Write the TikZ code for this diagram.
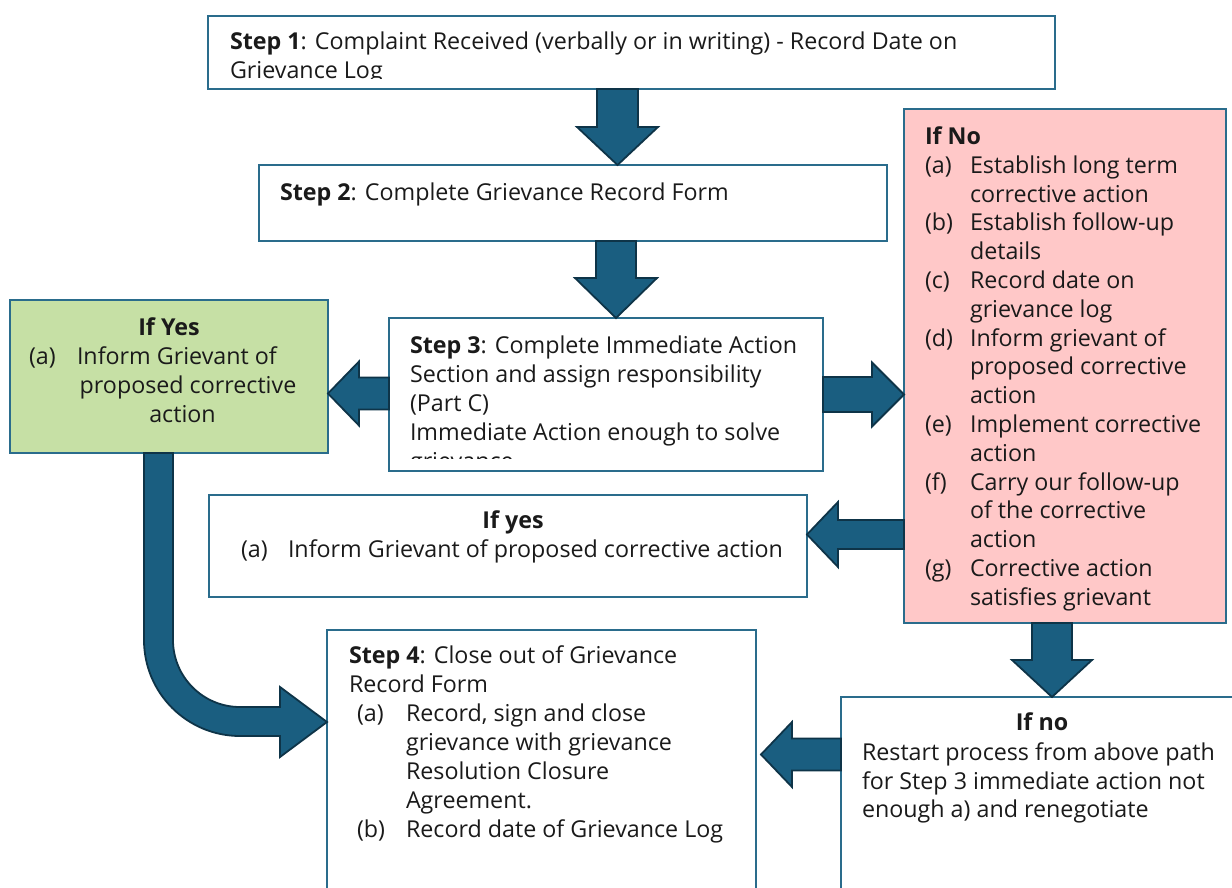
\documentclass[tikz,border=0pt]{standalone}
\usepackage{fontspec}
\setmainfont{Open Sans}
\usetikzlibrary{calc}
\definecolor{arrowfill}{HTML}{1A5E80}
\definecolor{arrowline}{HTML}{0E3448}
\definecolor{boxline}{HTML}{2A6C8C}
\definecolor{yesfill}{HTML}{C6E0A5}
\definecolor{nofill}{HTML}{FFC8C8}
\definecolor{textc}{HTML}{1A1A1A}
\newlength\calw
\AtBeginDocument{%
  \settowidth{\calw}{\fontsize{20pt}{24pt}\selectfont Inform Grievant of proposed corrective action}%
  \pgfmathsetmacro\fsz{20*495/\calw}%
  \xdef\fsz{\fsz}}
\newcommand\tf{\fontsize{\fsz pt}{\fsz pt}\selectfont}
\newcommand\arrowdown[5]{\draw[blockarrow] let \p1=#1, \p2=#2 in
  (\x2-#3,\y1) -- (\x2+#3,\y1) -- (\x2+#3,\y2+#5) -- (\x2+#4,\y2+#5) -- (\x2,\y2)
  -- (\x2-#4,\y2+#5) -- (\x2-#3,\y2+#5) -- cycle;}
\newcommand\arrowleft[5]{\draw[blockarrow] let \p1=#1, \p2=#2 in
  (\x1,\y2+#3) -- (\x2+#5,\y2+#3) -- (\x2+#5,\y2+#4) -- (\x2,\y2)
  -- (\x2+#5,\y2-#4) -- (\x2+#5,\y2-#3) -- (\x1,\y2-#3) -- cycle;}
\newcommand\arrowright[5]{\draw[blockarrow] let \p1=#1, \p2=#2 in
  (\x1,\y2+#3) -- (\x2-#5,\y2+#3) -- (\x2-#5,\y2+#4) -- (\x2,\y2)
  -- (\x2-#5,\y2-#4) -- (\x2-#5,\y2-#3) -- (\x1,\y2-#3) -- cycle;}
\begin{document}
\begin{tikzpicture}[x=1pt,y=-1pt,
  box/.style={draw=boxline, line width=1.6pt, rectangle, inner sep=0pt, outer sep=0pt, anchor=north west},
  blockarrow/.style={fill=arrowfill, draw=arrowline, line width=1.8pt, line join=miter},
  tx/.style={anchor=base west, inner sep=0pt, outer sep=0pt, font=\tf, text=textc, yshift=-1.5pt},
  txc/.style={anchor=base, inner sep=0pt, outer sep=0pt, font=\tf, text=textc, yshift=-1.5pt}]
\clip (0,0) rectangle (1232,888);
\fill[white] (0,0) rectangle (1232,888);
% boxes
\node[box, minimum width=847pt, minimum height=73pt] (s1) at (208,16) {};
\node[box, minimum width=628pt, minimum height=76pt] (s2) at (259,165) {};
\node[box, minimum width=434pt, minimum height=153pt] (s3) at (389,318) {};
\node[box, fill=yesfill, minimum width=318pt, minimum height=153pt] (ifyes) at (10,300) {};
\node[box, fill=nofill, minimum width=322pt, minimum height=514pt] (ifno) at (904,109) {};
\node[box, minimum width=598pt, minimum height=102pt] (ifyesb) at (209,495) {};
\node[box, minimum width=429pt, minimum height=290pt] (step4) at (327,630) {};
\node[box, minimum width=420pt, minimum height=220pt] (ifnob) at (841,697) {};
% block arrows
\arrowdown{(s1.south)}{(617.5,0 |- s2.north)}{20.5pt}{40.5pt}{38pt}
\arrowdown{(s2.south)}{(616,0 |- s3.north)}{20pt}{41pt}{40pt}
\arrowleft{(s3.west)}{(ifyes.east |- 0,393.5)}{16pt}{32pt}{31pt}
\arrowright{(s3.east)}{(ifno.west |- 0,394.5)}{17.5pt}{32pt}{32pt}
\arrowleft{(ifno.west)}{(ifyesb.east |- 0,534.5)}{14.5pt}{32.5pt}{31pt}
\arrowdown{(ifno.south)}{(1052,0 |- ifnob.north)}{20pt}{40pt}{37pt}
\coordinate (a7tip) at ($(step4.east |- 0,754.5)+(5,0)$);
\arrowleft{(ifnob.west)}{(a7tip)}{16pt}{32.5pt}{31pt}
% bent arrow from If Yes to Step 4
\coordinate (bstart) at (144,0 |- ifyes.south);
\coordinate (btip) at (step4.west |- 0,722);
\draw[blockarrow] (bstart) -- (144,640) .. controls (144,693) and (187,736) .. (240,736)
  -- (280,736) -- (280,757) -- (btip) -- (280,687) -- (280,707) -- (240,707)
  .. controls (203,707) and (173,677) .. (173,640) -- (173,0 |- ifyes.south) -- cycle;
% Step 1
\begin{scope}
\clip (208,16) rectangle (1055,79);
\node[tx] (t1a) at (230,48) {\textbf{Step 1}: Complaint Received (verbally or in writing) - Record Date on};
\node[tx] (t1b) at (230,77) {Grievance Log};
\end{scope}
% Step 2
\node[tx] (t2) at (280,199) {\textbf{Step 2}: Complete Grievance Record Form};
% Step 3
\begin{scope}
\clip (389,318) rectangle (823,458.5);
\node[tx] (t3a) at (410,352) {\textbf{Step 3}: Complete Immediate Action};
\node[tx] (t3b) at (410,381) {Section and assign responsibility};
\node[tx] (t3c) at (410,410) {(Part C)};
\node[tx] (t3d) at (410,439) {Immediate Action enough to solve};
\node[tx] (t3e) at (410,468) {grievance};
\end{scope}
% If Yes (green)
\node[txc] (y0) at (169,334) {\textbf{If Yes}};
\node[tx] (y1l) at (29,363) {(a)};
\node[tx] (y1) at (77,363) {Inform Grievant of};
\node[txc] (y2) at (188,392) {proposed corrective};
\node[txc] (y3) at (182.5,421) {action};
% If No (pink)
\node[tx] (n0) at (925,143) {\textbf{If No}};
\node[tx] (nal) at (925,171.8) {(a)};
\node[tx] (na1) at (970,171.8) {Establish long term};
\node[tx] (na2) at (970,200.6) {corrective action};
\node[tx] (nbl) at (925,229.4) {(b)};
\node[tx] (nb1) at (970,229.4) {Establish follow-up};
\node[tx] (nb2) at (970,258.2) {details};
\node[tx] (ncl) at (925,287) {(c)};
\node[tx] (nc1) at (970,287) {Record date on};
\node[tx] (nc2) at (970,315.8) {grievance log};
\node[tx] (ndl) at (925,344.6) {(d)};
\node[tx] (nd1) at (970,344.6) {Inform grievant of};
\node[tx] (nd2) at (970,373.4) {proposed corrective};
\node[tx] (nd3) at (970,402.2) {action};
\node[tx] (nel) at (925,431) {(e)};
\node[tx] (ne1) at (970,431) {Implement corrective};
\node[tx] (ne2) at (970,459.8) {action};
\node[tx] (nfl) at (925,488.6) {(f)};
\node[tx] (nf1) at (970,488.6) {Carry our follow-up};
\node[tx] (nf2) at (970,517.4) {of the corrective};
\node[tx] (nf3) at (970,546.2) {action};
\node[tx] (ngl) at (925,575) {(g)};
\node[tx] (ng1) at (970,575) {Corrective action};
\node[tx] (ng2) at (970,603.8) {satisfies grievant};
% If yes (white)
\node[txc] (w0) at (513,527) {\textbf{If yes}};
\node[tx] (w1l) at (241,556) {(a)};
\node[tx] (w1) at (288,556) {Inform Grievant of proposed corrective action};
% Step 4
\node[tx] (f0) at (349,662) {\textbf{Step 4}: Close out of Grievance};
\node[tx] (f1) at (349,691) {Record Form};
\node[tx] (fal) at (357,720) {(a)};
\node[tx] (fa1) at (406,720) {Record, sign and close};
\node[tx] (fa2) at (406,749) {grievance with grievance};
\node[tx] (fa3) at (406,778) {Resolution Closure};
\node[tx] (fa4) at (406,807) {Agreement.};
\node[tx] (fbl) at (357,836) {(b)};
\node[tx] (fb1) at (406,836) {Record date of Grievance Log};
% If no (bottom right)
\node[txc] (r0) at (1042,729) {\textbf{If no}};
\node[tx] (r1) at (862,759) {Restart process from above path};
\node[tx] (r2) at (862,787.5) {for Step 3 immediate action not};
\node[tx] (r3) at (862,816) {enough a) and renegotiate};
\end{tikzpicture}
\end{document}
